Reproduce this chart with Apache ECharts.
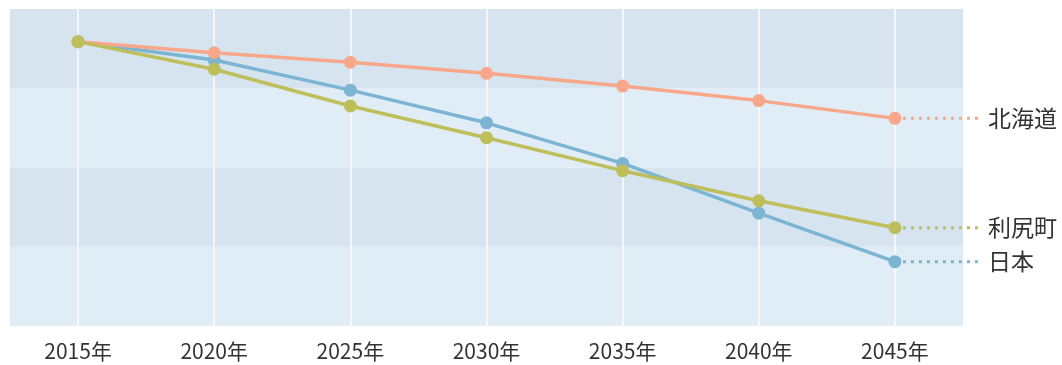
<!DOCTYPE html>
<html>
<head>
<meta charset="utf-8">
<script src="https://cdn.jsdelivr.net/npm/echarts@6/dist/echarts.min.js"></script>
<style>
  html, body { margin: 0; padding: 0; background: #ffffff; }
  #chart { width: 1062px; height: 365px; }
</style>
</head>
<body>
<div id="chart"></div>
<script>
// Survey years along the horizontal axis
const years = ['2015年', '2020年', '2025年', '2030年', '2035年', '2040年', '2045年'];

// Series values (index scale 0–100)
const hokkaido = [89.7, 86.2, 83.2, 79.7, 75.7, 71.1, 65.5];
const japan    = [89.7, 83.9, 74.4, 64.1, 51.3, 35.6, 20.3];
const rishiri  = [89.7, 81.0, 69.4, 59.4, 49.0, 39.5, 31.0];

const seriesDefs = [
  { name: '日本',   values: japan,    color: '#7cb4d4' },
  { name: '北海道', values: hokkaido, color: '#f8a78b' },
  { name: '利尻町', values: rishiri,  color: '#bebe5a' }
];

const FONT = '"Noto Sans CJK JP", "Noto Sans", sans-serif';
const WIDTH = 1062;

// Main plot area, and a wider overlay grid on which the name leaders run
const plotGrid = { left: 10, right: 99, top: 9, bottom: 39 };
const leaderGrid = { left: 10, right: 81, top: 9, bottom: 39 };
const plotW = WIDTH - plotGrid.left - plotGrid.right;
const leaderW = WIDTH - leaderGrid.left - leaderGrid.right;
// Numeric axis of the overlay grid, scaled so category i sits over category i
const leaderMin = -0.5;
const leaderMax = leaderMin + years.length * leaderW / plotW;

const chart = echarts.init(document.getElementById('chart'), null, { renderer: 'canvas' });

const lineSeries = seriesDefs.map(def => ({
  name: def.name,
  type: 'line',
  xAxisIndex: 0,
  yAxisIndex: 0,
  data: def.values,
  symbol: 'circle',
  symbolSize: 13,
  z: 3,
  lineStyle: { width: 3.5, color: def.color },
  itemStyle: { color: def.color },
  emphasis: { disabled: true }
}));

// Dotted leader from each series' last point out to its name
const leaderSeries = seriesDefs.map(def => {
  const lastIdx = def.values.length - 1;
  const lastVal = def.values[lastIdx];
  return {
    name: def.name + '-leader',
    type: 'line',
    xAxisIndex: 1,
    yAxisIndex: 1,
    data: [[lastIdx, lastVal], [leaderMax, lastVal]],
    symbol: 'none',
    clip: false,
    silent: true,
    z: 2,
    lineStyle: { width: 3, color: def.color, type: [3, 5] },
    endLabel: {
      show: true,
      formatter: def.name,
      distance: 7,
      color: '#333333',
      fontSize: 23,
      fontFamily: FONT
    },
    emphasis: { disabled: true }
  };
});

chart.setOption({
  animation: false,
  grid: [plotGrid, leaderGrid],
  xAxis: [
    {
      type: 'category',
      gridIndex: 0,
      data: years,
      boundaryGap: true,
      axisLine: { show: false },
      axisTick: { show: false },
      axisLabel: { color: '#333333', fontSize: 21, fontFamily: FONT, margin: 15 },
      splitLine: {
        show: true,
        alignWithLabel: true,
        lineStyle: { color: 'rgba(255,255,255,0.9)', width: 1.5 }
      }
    },
    {
      type: 'value',
      gridIndex: 1,
      min: leaderMin,
      max: leaderMax,
      show: false
    }
  ],
  yAxis: [
    {
      type: 'value',
      gridIndex: 0,
      min: 0,
      max: 100,
      interval: 25,
      axisLine: { show: false },
      axisTick: { show: false },
      axisLabel: { show: false },
      splitLine: { show: false },
      splitArea: {
        show: true,
        areaStyle: { color: ['#e1edf6', '#d5e4ef'] }
      }
    },
    {
      type: 'value',
      gridIndex: 1,
      min: 0,
      max: 100,
      show: false
    }
  ],
  series: leaderSeries.concat(lineSeries)
});
</script>
</body>
</html>
